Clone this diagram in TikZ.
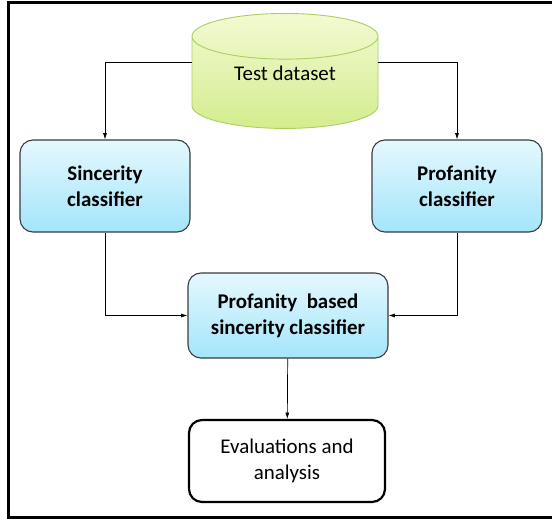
\documentclass[tikz,border=0pt]{standalone}
\usepackage{fontspec}
\setmainfont{Carlito}
\usetikzlibrary{arrows.meta,positioning,shapes.geometric}
\definecolor{Frame}{HTML}{000000}
\definecolor{Edge}{HTML}{3C3C3C}
\definecolor{SkyTop}{HTML}{E4F8FE}
\definecolor{SkyBot}{HTML}{A4E5FB}
\definecolor{LimeTop}{HTML}{F3FAD2}
\definecolor{LimeBot}{HTML}{D3ED8E}
\definecolor{LimeEdge}{HTML}{A9CF62}
\tikzset{
  x=1bp,y=-1bp,
  txt/.style={font=\fontsize{21}{26}\selectfont,align=center,text=black},
  classbox/.style={txt,font=\fontsize{21}{26}\selectfont\bfseries,draw=Edge,line width=1.1pt,rounded corners=13bp,top color=SkyTop,bottom color=SkyBot,minimum width=170bp,minimum height=92bp},
  evalbox/.style={txt,draw=black,line width=2.2pt,rounded corners=13bp,fill=white,minimum width=196bp,minimum height=82bp},
  store/.style={txt,cylinder,shape border rotate=90,aspect=0.45,draw=LimeEdge,line width=.9pt,top color=LimeTop,bottom color=LimeBot,minimum width=186bp,minimum height=115bp,inner sep=0pt},
  flow/.style={-{Latex[length=2.2mm,width=1.4mm]},draw=black,line width=.7pt}
}
\begin{document}
\begin{tikzpicture}
  \useasboundingbox (0,0) rectangle (552,519);
  \draw[Frame,line width=2.6pt] (552,2.5) -- (8.5,2.5) -- (8.5,517.5) -- (552,517.5);
  \node[store,anchor=north] (data) at (285,13) {\raisebox{18bp}{Test dataset}};
  \node[classbox] (sinc) at (105,186) {Sincerity\\classifier};
  \node[classbox] (prof) at (457,186) {Profanity\\classifier};
  \node[classbox,minimum width=200bp,minimum height=85bp] (both) at (288,315.5) {Profanity~ based\\sincerity classifier};
  \node[evalbox] (eval) at (287,461) {Evaluations and\\analysis};
  \draw[flow] ([yshift=20bp]data.west) -| (sinc.north);
  \draw[flow] ([yshift=20bp]data.east) -| (prof.north);
  \draw[flow] (sinc.south) |- (both.west);
  \draw[flow] (prof.south) |- (both.east);
  \draw[flow] (both) -- (eval);
\end{tikzpicture}
\end{document}
